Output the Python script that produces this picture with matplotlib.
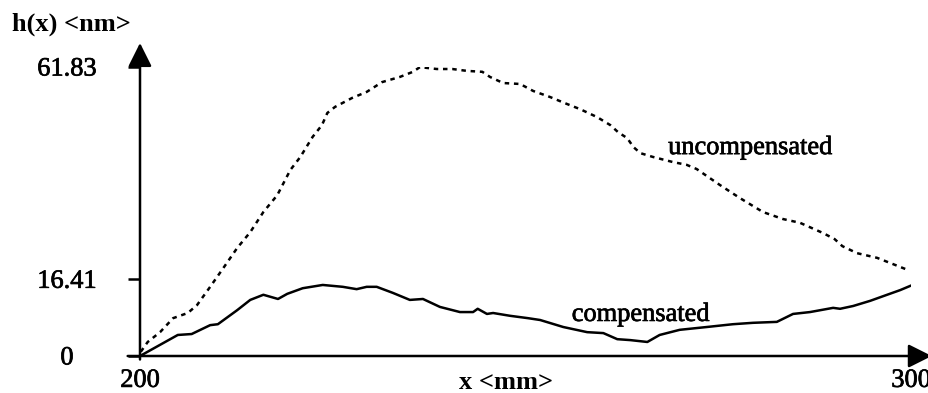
import matplotlib
matplotlib.use("Agg")
import matplotlib.pyplot as plt
import matplotlib.patheffects as pe

plt.rcParams["font.family"] = ["Liberation Serif", "DejaVu Serif"]

# profile samples
x_comp = [200.0, 204.9, 206.7, 209.1, 210.1, 212.6, 214.3, 216.0, 217.9, 219.1,
          221.1, 223.7, 226.3, 228.1, 229.4, 230.7, 232.8, 235.0, 236.7, 238.9,
          241.5, 243.2, 243.8, 245.0, 245.8, 248.0, 250.3, 251.9, 254.9, 258.0,
          260.1, 261.9, 263.6, 265.8, 267.4, 270.0, 273.5, 276.9, 279.5, 282.6,
          284.7, 286.9, 289.9, 290.8, 292.5, 294.7, 296.9, 298.6, 299.9]
h_comp = [0.0, 4.5, 4.7, 6.6, 6.8, 9.8, 12.0, 13.1, 12.2, 13.3,
          14.5, 15.2, 14.8, 14.3, 14.8, 14.8, 13.5, 12.0, 12.2, 10.5,
          9.4, 9.4, 10.1, 9.0, 9.2, 8.6, 8.1, 7.7, 6.2, 5.1,
          4.9, 3.6, 3.4, 3.0, 4.5, 5.6, 6.2, 6.8, 7.1, 7.3,
          9.0, 9.4, 10.3, 10.1, 10.7, 11.8, 13.1, 14.1, 15.0]

x_unc = [200.1, 201.0, 202.6, 204.3, 206.2, 207.4, 209.1, 210.8, 212.6, 214.3,
         216.0, 217.8, 219.5, 220.8, 222.4, 223.6, 224.3, 225.3, 227.5, 229.4,
         231.4, 233.7, 235.4, 236.3, 238.5, 240.5, 242.4, 244.4, 245.4, 247.1,
         249.3, 251.0, 253.2, 255.1, 257.1, 259.3, 261.0, 262.0, 263.2, 264.0,
         264.9, 266.5, 269.1, 270.9, 272.2, 275.2, 277.8, 280.8, 283.4, 285.6,
         288.6, 290.1, 291.1, 293.0, 295.6, 297.3, 299.6]
h_unc = [0.9, 3.0, 5.1, 8.1, 9.2, 10.9, 14.8, 18.8, 23.1, 26.5,
         30.8, 34.4, 39.8, 42.6, 46.9, 49.4, 52.0, 53.3, 55.2, 56.5,
         58.6, 59.7, 60.8, 61.8, 61.4, 61.4, 61.0, 60.8, 59.7, 58.4,
         58.2, 56.7, 55.4, 54.1, 52.8, 51.1, 49.4, 47.9, 46.6, 44.7,
         43.4, 42.6, 41.5, 40.9, 40.0, 36.6, 33.8, 30.8, 29.3, 28.5,
         26.3, 25.0, 23.5, 22.0, 21.0, 19.9, 18.4]

y_ticks = [0, 16.41, 61.83]
y_ticklabels = ["0", "16.41", "61.83"]
x_ticks = [200, 300]
x_ticklabels = ["200", "300"]

W, H = 929, 393
fig = plt.figure(figsize=(W / 100, H / 100), dpi=100)
ax = fig.add_axes([140 / W, (H - 356) / H, 771 / W, 289 / H])

ax.plot(x_comp, h_comp, color="black", lw=1.8, solid_joinstyle="round")
ax.plot(x_unc, h_unc, color="black", lw=1.8, linestyle=(0, (1.8, 1.9)))

ax.set_xlim(200, 300)
ax.set_ylim(0, 61.83)
for s in ax.spines.values():
    s.set_visible(False)

# axes drawn as arrows
arrow = dict(arrowstyle="-|>,head_length=0.6,head_width=0.3", color="black",
             lw=1.8, mutation_scale=24, shrinkA=0, shrinkB=0)
ax.annotate("", xy=(0, 1.083), xytext=(0, -0.012), xycoords="axes fraction",
            arrowprops=arrow, annotation_clip=False)
ax.annotate("", xy=(1.027, 0), xytext=(-0.016, 0), xycoords="axes fraction",
            arrowprops=arrow, annotation_clip=False)

# scanned look: slightly heavier strokes on the text
heavy = [pe.withStroke(linewidth=0.5, foreground="black")]

ax.set_yticks(y_ticks)
ax.set_yticklabels(y_ticklabels)
ax.set_xticks(x_ticks)
ax.set_xticklabels(x_ticklabels)
ax.tick_params(axis="y", length=8.6, width=1.8, pad=44, labelsize=19)
ax.tick_params(axis="x", length=3, width=1.2, pad=7, labelsize=19)
for lab in ax.get_yticklabels():
    lab.set_horizontalalignment("center")
for lab in ax.get_yticklabels() + ax.get_xticklabels():
    lab.set_path_effects(heavy)

ax.text(268.5, 43.2, "uncompensated", fontsize=19, ha="left", va="baseline",
        path_effects=heavy)
ax.text(256.0, 7.5, "compensated", fontsize=19, ha="left", va="baseline",
        path_effects=heavy)

fig.text(12 / W, 1 - 31 / H, "h(x) <nm>", fontsize=19, fontweight="bold",
         ha="left", va="baseline")
fig.text(506 / W, 1 - 389 / H, "x <mm>", fontsize=19, fontweight="bold",
         ha="center", va="baseline")

fig.savefig("out.png", dpi=100)
